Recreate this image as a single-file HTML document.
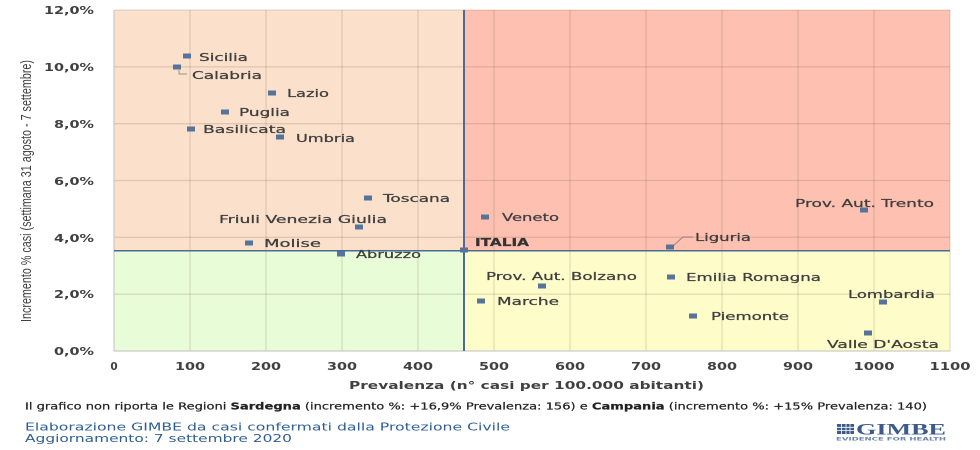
<!DOCTYPE html>
<html>
<head>
<meta charset="utf-8">
<style>
  html, body { margin:0; padding:0; background:#ffffff; }
  svg { display:block; }
  .lbl { font-family:"DejaVu Sans","Liberation Sans",sans-serif; font-size:11px; fill:#3f3f3f; stroke:#3f3f3f; stroke-width:0.25; }
  .tick { font-family:"DejaVu Sans","Liberation Sans",sans-serif; font-size:10.5px; font-weight:bold; fill:#404040; }
</style>
</head>
<body>
<svg width="980" height="450" viewBox="0 0 980 450" xmlns="http://www.w3.org/2000/svg">
  <rect x="0" y="0" width="980" height="450" fill="#ffffff"/>

  <!-- quadrants -->
  <rect x="114" y="10" width="350" height="240.7" fill="#fbe0cc"/>
  <rect x="464" y="10" width="486" height="240.7" fill="#fdc0b1"/>
  <rect x="114" y="250.7" width="350" height="100.3" fill="#e9fcd8"/>
  <rect x="464" y="250.7" width="486" height="100.3" fill="#fefdca"/>

  <!-- gridlines -->
  <g stroke="rgba(120,90,60,0.19)" stroke-width="1.3">
    <line x1="190" y1="10" x2="190" y2="351"/>
    <line x1="266" y1="10" x2="266" y2="351"/>
    <line x1="342" y1="10" x2="342" y2="351"/>
    <line x1="418" y1="10" x2="418" y2="351"/>
    <line x1="494" y1="10" x2="494" y2="351"/>
    <line x1="570" y1="10" x2="570" y2="351"/>
    <line x1="646" y1="10" x2="646" y2="351"/>
    <line x1="722" y1="10" x2="722" y2="351"/>
    <line x1="798" y1="10" x2="798" y2="351"/>
    <line x1="874" y1="10" x2="874" y2="351"/>
    <line x1="950" y1="10" x2="950" y2="351"/>
    <line x1="114" y1="10" x2="950" y2="10"/>
    <line x1="114" y1="66.8" x2="950" y2="66.8"/>
    <line x1="114" y1="123.7" x2="950" y2="123.7"/>
    <line x1="114" y1="180.5" x2="950" y2="180.5"/>
    <line x1="114" y1="237.3" x2="950" y2="237.3"/>
    <line x1="114" y1="294.2" x2="950" y2="294.2"/>
  </g>

  <!-- axes -->
  <line x1="114" y1="10" x2="114" y2="351" stroke="#bfbfbf" stroke-width="1"/>
  <line x1="114" y1="351" x2="950" y2="351" stroke="#bfbfbf" stroke-width="1"/>

  <!-- Italia reference lines -->
  <line x1="114" y1="250.7" x2="950" y2="250.7" stroke="#4d6a94" stroke-width="1.5"/>
  <line x1="464" y1="10" x2="464" y2="351" stroke="#4d6a94" stroke-width="2"/>

  <!-- leader lines -->
  <polyline points="179,70 179,74 187,74" fill="none" stroke="#a09080" stroke-width="1"/>
  <polyline points="673,246 683,237 693,237" fill="none" stroke="#a08080" stroke-width="1"/>

  <!-- markers -->
  <g fill="#56739a">
    <rect x="183" y="53.5" width="8" height="5"/>
    <rect x="173" y="64.5" width="8" height="5"/>
    <rect x="268" y="90.5" width="8" height="5"/>
    <rect x="221" y="109.5" width="8" height="5"/>
    <rect x="187" y="126.5" width="8" height="5"/>
    <rect x="276" y="134.5" width="8" height="5"/>
    <rect x="364" y="195.5" width="8" height="5"/>
    <rect x="355" y="224.5" width="8" height="5"/>
    <rect x="245" y="240.5" width="8" height="5"/>
    <rect x="337" y="251.5" width="8" height="5"/>
    <rect x="460" y="247.5" width="8" height="5"/>
    <rect x="481" y="214.5" width="8" height="5"/>
    <rect x="860" y="207.5" width="8" height="5"/>
    <rect x="666" y="244.5" width="8" height="5"/>
    <rect x="538" y="283.5" width="8" height="5"/>
    <rect x="477" y="298.5" width="8" height="5"/>
    <rect x="667" y="274.5" width="8" height="5"/>
    <rect x="879" y="299.5" width="8" height="5"/>
    <rect x="689" y="313.5" width="8" height="5"/>
    <rect x="864" y="330.5" width="8" height="5"/>
  </g>

  <!-- data labels -->
  <g class="lbl">
    <text x="199" y="61" textLength="49" lengthAdjust="spacingAndGlyphs">Sicilia</text>
    <text x="192" y="79" textLength="70" lengthAdjust="spacingAndGlyphs">Calabria</text>
    <text x="287" y="97" textLength="42" lengthAdjust="spacingAndGlyphs">Lazio</text>
    <text x="239" y="116" textLength="51" lengthAdjust="spacingAndGlyphs">Puglia</text>
    <text x="203" y="133" textLength="83" lengthAdjust="spacingAndGlyphs">Basilicata</text>
    <text x="296" y="142" textLength="59" lengthAdjust="spacingAndGlyphs">Umbria</text>
    <text x="383" y="202" textLength="67" lengthAdjust="spacingAndGlyphs">Toscana</text>
    <text x="219" y="223" textLength="168" lengthAdjust="spacingAndGlyphs">Friuli Venezia Giulia</text>
    <text x="264" y="247" textLength="57" lengthAdjust="spacingAndGlyphs">Molise</text>
    <text x="356" y="258" textLength="65" lengthAdjust="spacingAndGlyphs">Abruzzo</text>
    <text x="475" y="246" textLength="54" lengthAdjust="spacingAndGlyphs" font-weight="bold" fill="#333" stroke="#333">ITALIA</text>
    <text x="502" y="221" textLength="57" lengthAdjust="spacingAndGlyphs">Veneto</text>
    <text x="795" y="207" textLength="139" lengthAdjust="spacingAndGlyphs">Prov. Aut. Trento</text>
    <text x="695" y="241" textLength="56" lengthAdjust="spacingAndGlyphs">Liguria</text>
    <text x="486" y="280" textLength="151" lengthAdjust="spacingAndGlyphs">Prov. Aut. Bolzano</text>
    <text x="497" y="305" textLength="62" lengthAdjust="spacingAndGlyphs">Marche</text>
    <text x="686" y="281" textLength="135" lengthAdjust="spacingAndGlyphs">Emilia Romagna</text>
    <text x="848" y="298" textLength="87" lengthAdjust="spacingAndGlyphs">Lombardia</text>
    <text x="711" y="320" textLength="78" lengthAdjust="spacingAndGlyphs">Piemonte</text>
    <text x="827" y="348" textLength="112" lengthAdjust="spacingAndGlyphs">Valle D'Aosta</text>
  </g>

  <!-- y tick labels -->
  <g class="tick" text-anchor="end">
    <text x="94" y="14" textLength="50" lengthAdjust="spacingAndGlyphs">12,0%</text>
    <text x="94" y="71" textLength="50" lengthAdjust="spacingAndGlyphs">10,0%</text>
    <text x="94" y="128" textLength="40" lengthAdjust="spacingAndGlyphs">8,0%</text>
    <text x="94" y="185" textLength="40" lengthAdjust="spacingAndGlyphs">6,0%</text>
    <text x="94" y="242" textLength="40" lengthAdjust="spacingAndGlyphs">4,0%</text>
    <text x="94" y="298" textLength="40" lengthAdjust="spacingAndGlyphs">2,0%</text>
    <text x="94" y="355" textLength="40" lengthAdjust="spacingAndGlyphs">0,0%</text>
  </g>

  <!-- x tick labels -->
  <g class="tick" text-anchor="middle">
    <text x="114" y="370">0</text>
    <text x="190" y="370" textLength="30" lengthAdjust="spacingAndGlyphs">100</text>
    <text x="266" y="370" textLength="30" lengthAdjust="spacingAndGlyphs">200</text>
    <text x="342" y="370" textLength="30" lengthAdjust="spacingAndGlyphs">300</text>
    <text x="418" y="370" textLength="30" lengthAdjust="spacingAndGlyphs">400</text>
    <text x="494" y="370" textLength="30" lengthAdjust="spacingAndGlyphs">500</text>
    <text x="570" y="370" textLength="30" lengthAdjust="spacingAndGlyphs">600</text>
    <text x="646" y="370" textLength="30" lengthAdjust="spacingAndGlyphs">700</text>
    <text x="722" y="370" textLength="30" lengthAdjust="spacingAndGlyphs">800</text>
    <text x="798" y="370" textLength="30" lengthAdjust="spacingAndGlyphs">900</text>
    <text x="874" y="370" textLength="41" lengthAdjust="spacingAndGlyphs">1000</text>
    <text x="950" y="370" textLength="41" lengthAdjust="spacingAndGlyphs">1100</text>
  </g>

  <!-- axis titles -->
  <text x="349" y="389" class="tick" textLength="355" lengthAdjust="spacingAndGlyphs">Prevalenza  (n° casi per 100.000 abitanti)</text>
  <text transform="translate(31,191) rotate(-90)" text-anchor="middle" font-family="Liberation Sans, sans-serif" font-size="14.5" fill="#404040" textLength="262" lengthAdjust="spacingAndGlyphs">Incremento % casi (settimana 31 agosto - 7 settembre)</text>

  <!-- footnotes -->
  <text x="25" y="409.5" font-family="DejaVu Sans, Liberation Sans, sans-serif" font-size="9.5" fill="#222" stroke="#222" stroke-width="0.2" textLength="902" lengthAdjust="spacingAndGlyphs">Il grafico non riporta le Regioni <tspan font-weight="bold">Sardegna</tspan> (incremento %: +16,9% Prevalenza: 156) e <tspan font-weight="bold">Campania</tspan> (incremento %: +15% Prevalenza: 140)</text>
  <text x="25" y="430.5" font-family="DejaVu Sans, Liberation Sans, sans-serif" font-size="11" fill="#2e5e95" textLength="485" lengthAdjust="spacingAndGlyphs">Elaborazione GIMBE da casi confermati dalla Protezione Civile</text>
  <text x="25" y="442" font-family="DejaVu Sans, Liberation Sans, sans-serif" font-size="11" fill="#2e5e95" textLength="267" lengthAdjust="spacingAndGlyphs">Aggiornamento: 7 settembre 2020</text>

  <!-- GIMBE logo -->
  <g>
    <rect x="837" y="424" width="17" height="10" fill="#3c5a8a"/>
    <g stroke="#ffffff" stroke-width="0.8">
      <line x1="837" y1="427.3" x2="854" y2="427.3"/>
      <line x1="837" y1="430.6" x2="854" y2="430.6"/>
      <line x1="841.5" y1="424" x2="841.5" y2="434"/>
      <line x1="846" y1="424" x2="846" y2="434"/>
      <line x1="850" y1="424" x2="850" y2="434"/>
    </g>
    <text x="856" y="434.5" font-family="Liberation Serif, serif" font-size="15.5" font-weight="bold" fill="#3c5a8a" textLength="90" lengthAdjust="spacingAndGlyphs">GIMBE</text>
    <text x="836" y="440.5" font-family="DejaVu Sans, sans-serif" font-size="4.5" font-weight="bold" fill="#6a86ad" textLength="110" lengthAdjust="spacingAndGlyphs">EVIDENCE FOR HEALTH</text>
  </g>
</svg>
</body>
</html>
